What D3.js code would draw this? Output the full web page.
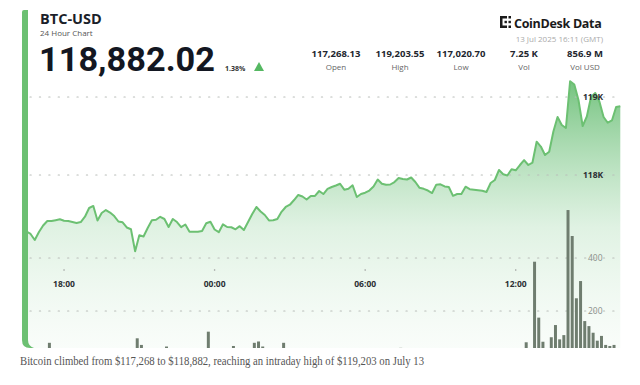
<!DOCTYPE html>
<html>
<head>
<meta charset="utf-8">
<script src="https://cdn.jsdelivr.net/npm/d3@7"></script>
<style>
  body { margin: 0; background: #fff; }
  svg { display: block; font-family: "Open Sans", "Noto Sans", sans-serif; }
</style>
</head>
<body>
<svg id="chart" width="640" height="385"></svg>
<script>
// 10 minute samples, 12 Jul 16:30 -> 13 Jul 16:10 (GMT)
var startTime = "2025-07-12T16:30:00Z";
var prices = [
  117276,117244,117167,117269,117353,117410,117410,117421,117433,117414,
  117410,117397,117385,117397,117465,117577,117603,117417,117513,117551,
  117519,117474,117404,117394,117327,117304,117021,117227,117212,117321,
  117421,117426,117464,117436,117333,117436,117397,117331,117365,117273,
  117273,117273,117282,117381,117401,117301,117267,117368,117333,117330,
  117304,117344,117295,117397,117500,117590,117532,117487,117417,117419,
  117436,117528,117590,117619,117679,117744,117724,117686,117731,117731,
  117795,117756,117821,117846,117865,117888,117812,117824,117868,117718,
  117756,117773,117801,117853,117942,117888,117876,117878,117910,117962,
  117949,117942,117968,117910,117836,117823,117801,117769,117876,117881,
  117853,117846,117733,117756,117756,117850,117818,117812,117805,117797,
  117782,117897,117936,118064,118010,117994,118074,118060,118128,118190,
  118128,118160,118427,118365,118256,118299,118558,118744,118641,118603,
  119203,119160,118962,118628,118750,119000,119051,118942,118744,118670,
  118699,118872,118882
];
var volumes = [
  40,35,45,50,40,80,30,25,30,35,
  28,25,22,30,40,45,50,48,35,30,
  28,25,30,32,40,45,97,72,50,38,
  30,28,30,66,40,35,30,32,28,35,
  30,28,40,122,45,35,38,30,35,68,
  45,30,35,50,80,85,66,40,35,30,
  40,80,45,35,30,35,28,25,30,26,
  32,28,35,30,28,33,40,30,28,45,
  35,30,28,32,40,35,30,28,35,61,
  40,30,28,35,40,32,30,38,35,30,
  28,30,42,35,30,33,28,25,27,30,
  35,40,45,55,45,40,48,42,50,82,
  50,386,175,84,40,101,147,93,109,581,
  483,248,313,162,143,118,88,106,72,68,
  72,55
];
var priceTicks = [118000, 119000];
var priceTickLabels = ["118K", "119K"];
var volTicks = [200, 400];
var timeTicks = ["2025-07-12T18:00:00Z", "2025-07-13T00:00:00Z", "2025-07-13T06:00:00Z", "2025-07-13T12:00:00Z"];
var statValues = ["117,268.13", "119,203.55", "117,020.70", "7.25 K", "856.9 M"];
var statLabels = ["Open", "High", "Low", "Vol", "Vol USD"];

var t0 = new Date(startTime);
var times = prices.map(function(d, i){ return d3.utcMinute.offset(t0, i*10); });

var svg = d3.select('#chart');
var green = '#6cc072';

var x = d3.scaleUtc()
    .domain([times[0], times[times.length-1]])
    .range([26.4, 620.3]);
var y = d3.scaleLinear().domain([118000, 119000]).range([175, 97]);
var yv = d3.scaleLinear().domain([0, 400]).range([364, 258]);
var bottom = 348;

var defs = svg.append('defs');
var grad = defs.append('linearGradient')
    .attr('id', 'areaGrad').attr('gradientUnits', 'userSpaceOnUse')
    .attr('x1', 0).attr('x2', 0).attr('y1', 80).attr('y2', bottom);
grad.append('stop').attr('offset', '0%').attr('stop-color', '#5cb868').attr('stop-opacity', 0.85);
grad.append('stop').attr('offset', '55%').attr('stop-color', '#8fd09a').attr('stop-opacity', 0.28);
grad.append('stop').attr('offset', '100%').attr('stop-color', '#d8efdc').attr('stop-opacity', 0.15);
defs.append('clipPath').attr('id', 'plotClip')
  .append('rect').attr('x', 28).attr('y', 0).attr('width', 600).attr('height', bottom);

var plot = svg.append('g').attr('clip-path', 'url(#plotClip)');

// area + line
plot.append('path')
    .datum(prices)
    .attr('fill', 'url(#areaGrad)')
    .attr('d', d3.area()
        .x(function(d, i){ return x(times[i]); })
        .y0(bottom)
        .y1(function(d){ return y(d); }));

// dotted grid lines
function dotted(yy) {
    plot.append('line')
        .attr('x1', 30).attr('x2', 622).attr('y1', yy).attr('y2', yy)
        .attr('stroke', '#b9bdb9').attr('stroke-width', 1.2)
        .attr('stroke-dasharray', '1.2,8.2').attr('stroke-linecap', 'round');
}
priceTicks.forEach(function(t){ dotted(y(t)); });
volTicks.forEach(function(t){ dotted(yv(t)); });

// volume bars
var step = x(times[1]) - x(times[0]);
plot.selectAll('rect.vol')
    .data(volumes)
    .enter().append('rect')
    .attr('class', 'vol')
    .attr('x', function(d, i){ return x(times[i]) + 0.6; })
    .attr('y', function(d){ return yv(d); })
    .attr('width', step - 1.2)
    .attr('height', function(d){ return yv(0) - yv(d); })
    .attr('fill', '#6f7d6f');

plot.append('path')
    .datum(prices)
    .attr('fill', 'none')
    .attr('stroke', green)
    .attr('stroke-width', 2)
    .attr('stroke-linejoin', 'round')
    .attr('d', d3.line()
        .x(function(d, i){ return x(times[i]); })
        .y(function(d){ return y(d); }));

// right axis labels
priceTicks.forEach(function(t, i){
    svg.append('text')
        .attr('x', 583).attr('y', y(t) + 3)
        .attr('font-size', 8.5).attr('font-weight', 700).attr('fill', '#2b2f33')
        .text(priceTickLabels[i]);
});
volTicks.forEach(function(t){
    svg.append('text')
        .attr('x', 588).attr('y', yv(t) + 3)
        .attr('font-size', 8.5).attr('fill', '#8a8f8a')
        .text(t);
});

// time axis
var fmt = d3.utcFormat('%H:%M');
timeTicks.forEach(function(s){
    var t = new Date(s);
    svg.append('circle').attr('cx', x(t)).attr('cy', 270).attr('r', 0.8).attr('fill', '#999');
    svg.append('text')
        .attr('x', x(t)).attr('y', 287)
        .attr('text-anchor', 'middle')
        .attr('font-size', 8.5).attr('font-weight', 700).attr('fill', '#2b2f33')
        .text(fmt(t));
});

// left green border of the card
svg.append('path')
    .attr('d', 'M22,12 Q22,10 24,10 L28,10 L28,340 Q28,346 34,348 L30,348 Q22,348 22,340 Z')
    .attr('fill', green);

// header
svg.append('text').attr('x', 40).attr('y', 23.5)
    .attr('font-size', 14.5).attr('font-weight', 700).attr('fill', '#1b1f2a')
    .text('BTC-USD');
svg.append('text').attr('x', 40).attr('y', 35.5)
    .attr('font-size', 8).attr('fill', '#555')
    .text('24 Hour Chart');
svg.append('text').attr('x', 39).attr('y', 70.5)
    .attr('font-family', 'Roboto, "Open Sans", sans-serif')
    .attr('font-size', 33).attr('font-weight', 700).attr('fill', '#131722')
    .attr('textLength', 176).attr('lengthAdjust', 'spacingAndGlyphs')
    .text('118,882.02');
svg.append('text').attr('x', 225).attr('y', 71)
    .attr('font-size', 7).attr('font-weight', 700).attr('fill', '#333')
    .text('1.38%');
svg.append('path').attr('d', 'M254,71 L259,62 L264,71 Z').attr('fill', '#55b862');

// stats
var statX = [336, 400, 461, 524, 585];
statValues.forEach(function(v, i){
    svg.append('text').attr('x', statX[i]).attr('y', 57)
        .attr('text-anchor', 'middle')
        .attr('font-size', 9.5).attr('font-weight', 700).attr('fill', '#22262e')
        .text(v);
    svg.append('text').attr('x', statX[i]).attr('y', 70)
        .attr('text-anchor', 'middle')
        .attr('font-size', 8).attr('fill', '#666')
        .text(statLabels[i]);
});

// CoinDesk Data logo
var logo = svg.append('g').attr('fill', '#1b1b1b');
logo.append('rect').attr('x', 500).attr('y', 16).attr('width', 2.5).attr('height', 12);
logo.append('rect').attr('x', 500).attr('y', 16).attr('width', 7).attr('height', 2.5);
logo.append('rect').attr('x', 500).attr('y', 25.5).attr('width', 7).attr('height', 2.5);
logo.append('rect').attr('x', 508.5).attr('y', 16).attr('width', 2.5).attr('height', 2.5);
logo.append('rect').attr('x', 508.5).attr('y', 25.5).attr('width', 2.5).attr('height', 2.5);
logo.append('rect').attr('x', 504.5).attr('y', 20.8).attr('width', 2.4).attr('height', 2.4);
logo.append('rect').attr('x', 508.5).attr('y', 20.8).attr('width', 2.4).attr('height', 2.4);
svg.append('text').attr('x', 514).attr('y', 28)
    .attr('font-size', 12.5).attr('font-weight', 700).attr('fill', '#1b1b1b')
    .attr('letter-spacing', -0.3)
    .text('CoinDesk Data');
svg.append('text').attr('x', 603).attr('y', 42)
    .attr('text-anchor', 'end')
    .attr('font-size', 8).attr('fill', '#aaa')
    .text('13 Jul 2025 16:11 (GMT)');

// caption
svg.append('text').attr('x', 20).attr('y', 365)
    .attr('font-family', '"Liberation Serif", "DejaVu Serif", serif')
    .attr('font-size', 12.5).attr('fill', '#555')
    .attr('textLength', 404).attr('lengthAdjust', 'spacingAndGlyphs')
    .text('Bitcoin climbed from $117,268 to $118,882, reaching an intraday high of $119,203 on July 13');
</script>
</body>
</html>
